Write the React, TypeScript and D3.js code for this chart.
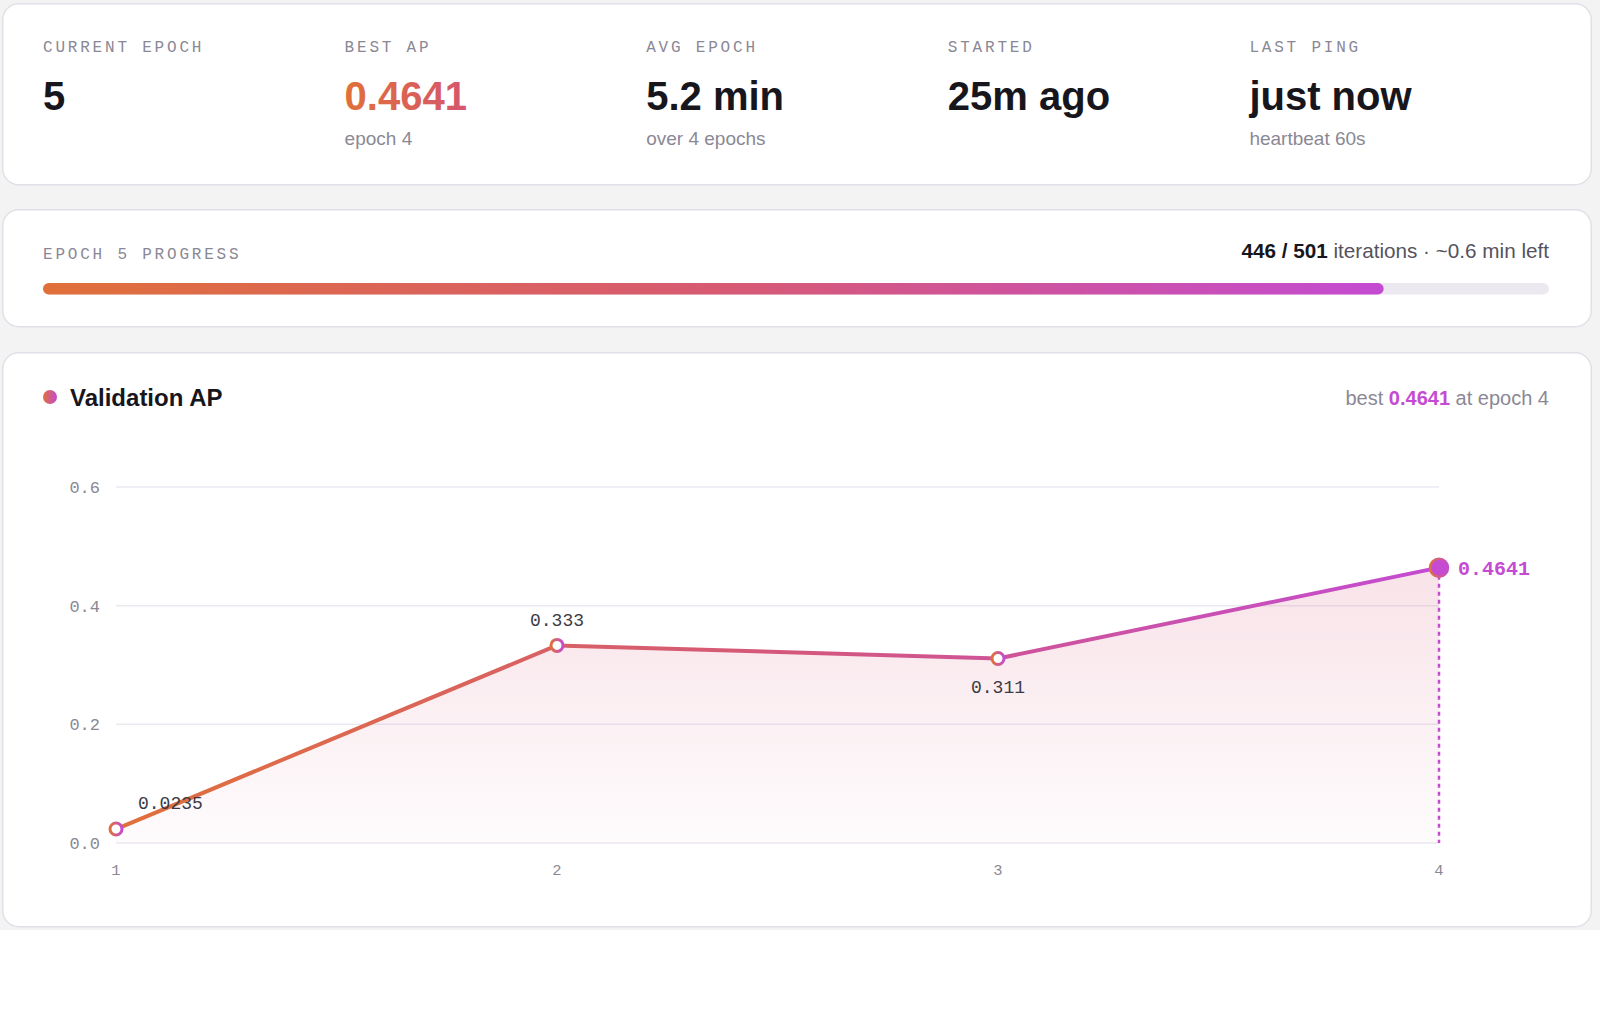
import React from "react";
import * as d3 from "d3";

// ---- data ----
const statLabels = ["CURRENT EPOCH", "BEST AP", "AVG EPOCH", "STARTED", "LAST PING"];
const statValues = ["5", "0.4641", "5.2 min", "25m ago", "just now"];
const statSubs = ["", "epoch 4", "over 4 epochs", "", "heartbeat 60s"];

const currentEpoch = 5;
const itersDone = 446;
const itersTotal = 501;
const minLeft = "~0.6 min left";

const epochs = [1, 2, 3, 4];
const valAP = [0.0235, 0.333, 0.311, 0.4641];
const pointLabels = ["0.0235", "0.333", "0.311", "0.4641"];
const yTicks = [0, 0.2, 0.4, 0.6];

const W = 1600;
const H = 1033;
const SANS = "'Liberation Sans', Arial, Helvetica, sans-serif";
const MONO = "'Liberation Mono', 'Courier New', monospace";
const ORANGE = "#e0703a";
const MID = "#d4587a";
const MAGENTA = "#c44bd2";
const GREY = "#8b8895";
const INK = "#17161d";

export default function App() {
  const cardX = 2, cardW = 1590;
  const padL = 43, innerR = 1549;
  const colW = (innerR + 2 - padL) / statLabels.length;

  // progress
  const prog = d3.scaleLinear().domain([0, itersTotal]).range([padL, innerR]);

  // chart scales
  const x = d3.scaleLinear().domain([1, 4]).range([116, 1439]);
  const y = d3.scaleLinear().domain([0, 0.6]).range([843, 487]);
  const pts = epochs.map((e, i) => [e, valAP[i]] as [number, number]);
  const line = d3.line<[number, number]>().x((d) => x(d[0])).y((d) => y(d[1]));
  const area = d3
    .area<[number, number]>()
    .x((d) => x(d[0]))
    .y0(y(0))
    .y1((d) => y(d[1]));
  const fmt = d3.format(".1f");
  const bestIdx = valAP.indexOf(d3.max(valAP) as number);

  return (
    <div style={{ position: "absolute", left: 0, top: 0 }}>
      <svg width={W} height={H} style={{ display: "block" }}>
        <defs>
          <linearGradient id="lineGrad" gradientUnits="userSpaceOnUse" x1={x(1)} x2={x(4)} y1={0} y2={0}>
            <stop offset="0" stopColor={ORANGE} />
            <stop offset="0.5" stopColor={MID} />
            <stop offset="1" stopColor={MAGENTA} />
          </linearGradient>
          <linearGradient id="dotGrad" x1="0" x2="1" y1="0" y2="0">
            <stop offset="0" stopColor={ORANGE} />
            <stop offset="1" stopColor={MAGENTA} />
          </linearGradient>
          <linearGradient id="textGrad" x1="0" x2="1" y1="0" y2="0">
            <stop offset="0" stopColor={ORANGE} />
            <stop offset="1" stopColor="#d4566e" />
          </linearGradient>
          <linearGradient id="progGrad" gradientUnits="userSpaceOnUse" x1={prog(0)} x2={prog(itersDone)} y1={0} y2={0}>
            <stop offset="0" stopColor={ORANGE} />
            <stop offset="0.5" stopColor="#d75a72" />
            <stop offset="1" stopColor={MAGENTA} />
          </linearGradient>
          <linearGradient id="areaGrad" gradientUnits="userSpaceOnUse" x1={0} x2={0} y1={y(d3.max(valAP) as number)} y2={y(0)}>
            <stop offset="0" stopColor="#d6577a" stopOpacity={0.17} />
            <stop offset="1" stopColor="#d6577a" stopOpacity={0.02} />
          </linearGradient>
        </defs>

        <rect x={0} y={0} width={W} height={H} fill="#ffffff" />
        <rect x={0} y={0} width={W} height={930} fill="#f3f3f4" />

        {/* stats card */}
        <rect x={cardX + 0.75} y={3.75} width={cardW - 1.5} height={181} rx={16} fill="#fff" stroke="#e2e0e7" strokeWidth={1.5} />
        {statLabels.map((lab, i) => {
          const cx = padL + i * colW;
          return (
            <g key={lab}>
              <text x={cx} y={51.5} fontFamily={MONO} fontSize={16} letterSpacing={2.8} fill={GREY}>{lab}</text>
              <text x={cx} y={110} fontFamily={SANS} fontSize={40} fontWeight={700}
                fill={i === 1 ? "url(#textGrad)" : INK}>{statValues[i]}</text>
              {statSubs[i] && (
                <text x={cx} y={145} fontFamily={SANS} fontSize={19} fill={GREY}>{statSubs[i]}</text>
              )}
            </g>
          );
        })}

        {/* progress card */}
        <rect x={cardX + 0.75} y={209.75} width={cardW - 1.5} height={117} rx={16} fill="#fff" stroke="#e2e0e7" strokeWidth={1.5} />
        <text x={padL} y={258.5} fontFamily={MONO} fontSize={16} letterSpacing={2.8} fill={GREY}>
          {`EPOCH ${currentEpoch} PROGRESS`}
        </text>
        <text x={innerR} y={258} textAnchor="end" fontFamily={SANS} fontSize={20.7} fill="#55535e">
          <tspan fontWeight={700} fill={INK}>{`${itersDone} / ${itersTotal}`}</tspan>
          <tspan>{` iterations · ${minLeft}`}</tspan>
        </text>
        <rect x={prog(0)} y={283} width={prog(itersTotal) - prog(0)} height={11.5} rx={5.75} fill="#ebe8f0" />
        <rect x={prog(0)} y={283} width={prog(itersDone) - prog(0)} height={11.5} rx={5.75} fill="url(#progGrad)" />

        {/* chart card */}
        <rect x={cardX + 0.75} y={352.75} width={cardW - 1.5} height={574} rx={16} fill="#fff" stroke="#e2e0e7" strokeWidth={1.5} />
        <circle cx={50} cy={397} r={7} fill="url(#dotGrad)" />
        <text x={70} y={405.5} fontFamily={SANS} fontSize={24} fontWeight={700} fill={INK}>Validation AP</text>
        <text x={innerR} y={405} textAnchor="end" fontFamily={SANS} fontSize={20} fill={GREY}>
          <tspan>best </tspan>
          <tspan fontWeight={700} fill={MAGENTA}>{pointLabels[bestIdx]}</tspan>
          <tspan>{` at epoch ${epochs[bestIdx]}`}</tspan>
        </text>

        {yTicks.map((t) => (
          <g key={t}>
            <line x1={x(1)} x2={x(4)} y1={y(t)} y2={y(t)} stroke="#ebe9f0" strokeWidth={1.5} />
            <text x={100} y={y(t)} dy="0.35em" textAnchor="end" fontFamily={MONO} fontSize={17} fill={GREY}>{fmt(t)}</text>
          </g>
        ))}
        {epochs.map((e) => (
          <text key={e} x={x(e)} y={870} dy="0.35em" textAnchor="middle" fontFamily={MONO} fontSize={15.5} fill={GREY}>{e}</text>
        ))}

        <path d={area(pts) as string} fill="url(#areaGrad)" />
        <line x1={x(epochs[bestIdx])} x2={x(epochs[bestIdx])} y1={y(valAP[bestIdx])} y2={y(0)}
          stroke={MAGENTA} strokeWidth={2.5} strokeDasharray="4 4" />
        <path d={line(pts) as string} fill="none" stroke="url(#lineGrad)" strokeWidth={4} strokeLinejoin="round" strokeLinecap="round" />

        {pts.map((p, i) => {
          const px = x(p[0]);
          const py = y(p[1]);
          if (i === bestIdx) {
            return (
              <g key={i}>
                <circle cx={px} cy={py} r={9} fill={MAGENTA} stroke="url(#dotGrad)" strokeWidth={2.5} />
                <text x={px + 19} y={py} dy="0.35em" fontFamily={MONO} fontSize={20} fontWeight={700} fill={MAGENTA}>{pointLabels[i]}</text>
              </g>
            );
          }
          const below = i > 0 && valAP[i] < valAP[i - 1];
          const first = i === 0;
          return (
            <g key={i}>
              <circle cx={px} cy={py} r={6} fill="#fff" stroke="url(#dotGrad)" strokeWidth={3} />
              <text x={first ? px + 22 : px} y={below ? py + 28 : py - 26} dy="0.35em"
                textAnchor={first ? "start" : "middle"} fontFamily={MONO} fontSize={18} fill="#3b3a44">{pointLabels[i]}</text>
            </g>
          );
        })}
      </svg>
    </div>
  );
}
